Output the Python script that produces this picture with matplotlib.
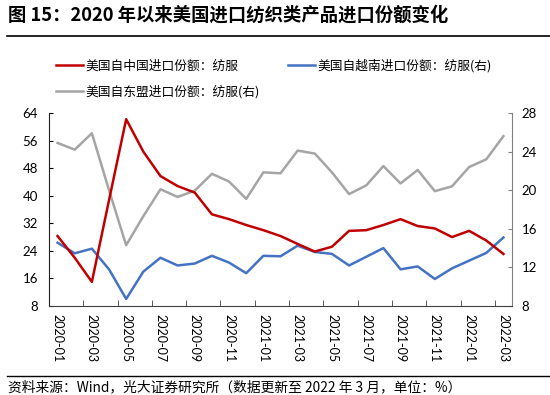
import matplotlib
matplotlib.use("Agg")
import matplotlib.pyplot as plt
from matplotlib.lines import Line2D
import numpy as np

plt.rcParams['font.family'] = ['Noto Sans CJK SC', 'DejaVu Sans']

months = ["2020-01", "2020-02", "2020-03", "2020-04", "2020-05", "2020-06", "2020-07",
          "2020-08", "2020-09", "2020-10", "2020-11", "2020-12", "2021-01", "2021-02",
          "2021-03", "2021-04", "2021-05", "2021-06", "2021-07", "2021-08", "2021-09",
          "2021-10", "2021-11", "2021-12", "2022-01", "2022-02", "2022-03"]

china = [28.3, 22.0, 15.0, 38.7, 62.2, 52.8, 45.7, 42.8, 40.9, 34.6, 33.2, 31.5, 30.0, 28.3,
         26.0, 23.8, 25.2, 29.8, 30.0, 31.5, 33.2, 31.2, 30.5, 28.0, 29.8, 27.0, 23.1]
vietnam = [14.56, 13.46, 13.94, 11.8, 8.73, 11.56, 13.0, 12.2, 12.4, 13.2, 12.5, 11.4, 13.2, 13.15,
           14.25, 13.6, 13.4, 12.2, 13.1, 14.0, 11.8, 12.1, 10.8, 11.9, 12.7, 13.5, 15.1]
asean = [24.9, 24.2, 25.9, 20.0, 14.3, 17.3, 20.1, 19.3, 19.95, 21.7, 20.9, 19.1, 21.85, 21.75,
         24.1, 23.8, 21.85, 19.6, 20.5, 22.5, 20.7, 22.1, 19.9, 20.4, 22.4, 23.2, 25.6]

labels = ["美国自中国进口份额：纺服", "美国自越南进口份额：纺服(右)", "美国自东盟进口份额：纺服(右)"]
colors = ["#C00000", "#4472C4", "#A5A5A5"]

left_ticks = [8, 16, 24, 32, 40, 48, 56, 64]
right_ticks = [8, 12, 16, 20, 24, 28]

W, H = 550, 395
fig = plt.figure(figsize=(5.5, 3.95), dpi=100)
ax = fig.add_axes([49 / W, 1 - 306 / H, (512 - 49) / W, (306 - 113) / H])
ax2 = ax.twinx()

x = np.arange(len(months))
ax2.plot(x, asean, color=colors[2], lw=1.8)
ax2.plot(x, vietnam, color=colors[1], lw=1.8)
ax.plot(x, china, color=colors[0], lw=1.8)
ax.set_zorder(ax2.get_zorder() + 1)
ax.patch.set_visible(False)

ax.set_xlim(-0.5, len(months) - 0.5)
ax.set_ylim(8, 64)
ax2.set_ylim(8, 28)
ax.set_yticks(left_ticks)
ax2.set_yticks(right_ticks)

ax.set_xticks(x[::2])
ax.set_xticklabels(months[::2], rotation=-90, fontsize=9, family=['Lato', 'DejaVu Sans'])
ax.set_xticks(np.arange(1.5, len(months) - 0.5, 2), minor=True)
ax.tick_params(axis='x', which='major', length=0, pad=6)
ax.tick_params(axis='x', which='minor', length=4, direction='in', color='#404040')
ax.tick_params(axis='y', direction='in', length=3, pad=8, labelsize=9.5)
ax2.tick_params(axis='y', direction='in', length=3, pad=7, labelsize=9.5, color='#808080')
for lab in ax.get_yticklabels() + ax2.get_yticklabels():
    lab.set_family(['Lato', 'DejaVu Sans'])

for a in (ax, ax2):
    a.spines['top'].set_visible(False)
ax.spines['left'].set_color('#202020')
ax.spines['bottom'].set_color('#404040')
ax2.spines['right'].set_color('#808080')
ax2.spines['left'].set_visible(False)
ax2.spines['bottom'].set_visible(False)
ax.spines['right'].set_visible(False)

handles = [Line2D([], [], color=colors[0], lw=1.8),
           Line2D([], [], color=colors[2], lw=1.8),
           Line2D([], [], color=colors[1], lw=1.8)]
fig.legend(handles, [labels[0], labels[2], labels[1]], ncol=2, loc='upper left',
           bbox_to_anchor=(56 / W, 1 - 59 / H), frameon=False, fontsize=9.2,
           handlelength=2.1, handletextpad=0.2, columnspacing=2.2, labelspacing=1.0,
           borderpad=0, borderaxespad=0)

fig.text(8 / W, 1 - 15 / H, "图 15：2020 年以来美国进口纺织类产品进口份额变化",
         fontsize=13.2, fontweight='bold', va='center', ha='left')
fig.add_artist(Line2D([7 / W, 1], [1 - 36 / H, 1 - 36 / H], color='black', lw=1.2))
fig.add_artist(Line2D([7 / W, 1], [1 - 376 / H, 1 - 376 / H], color='black', lw=1.0))
fig.text(8 / W, 1 - 387 / H, "资料来源：Wind，光大证券研究所（数据更新至 2022 年 3 月，单位：%）",
         fontsize=9.9, va='center', ha='left')

fig.savefig("out.png", dpi=100)
